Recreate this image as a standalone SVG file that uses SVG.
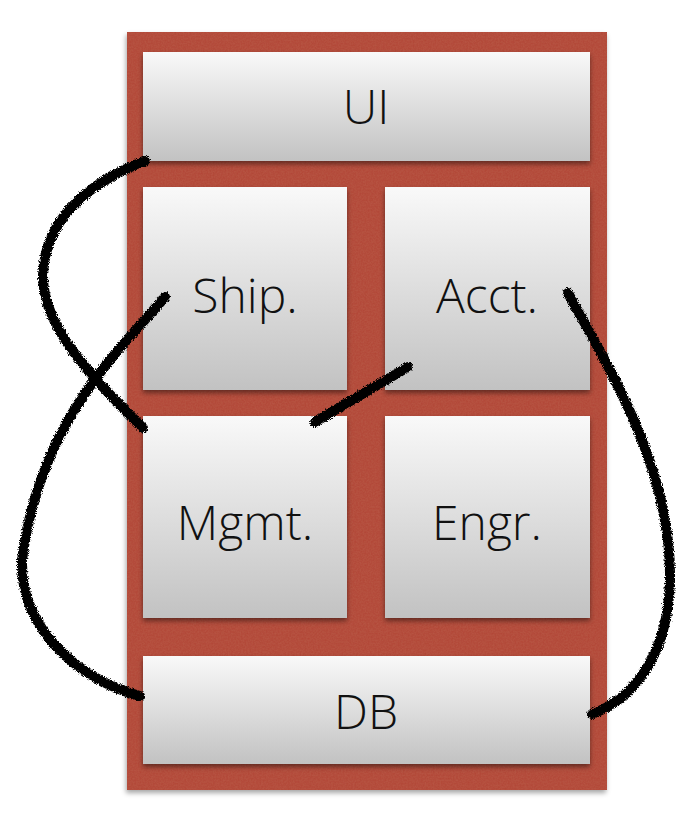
<svg xmlns="http://www.w3.org/2000/svg" width="691" height="831" viewBox="0 0 691 831">
<defs>
<linearGradient id="boxg" x1="0" y1="0" x2="0" y2="1">
<stop offset="0" stop-color="#f9f9f9"/>
<stop offset="1" stop-color="#c2c2c2"/>
</linearGradient>
<filter id="sh" x="-10%" y="-10%" width="120%" height="130%">
<feDropShadow dx="0" dy="3" stdDeviation="2.5" flood-color="#000" flood-opacity="0.45"/>
</filter>
<filter id="psh" x="-10%" y="-10%" width="120%" height="120%">
<feDropShadow dx="-1" dy="3" stdDeviation="2.5" flood-color="#000" flood-opacity="0.35"/>
</filter>
<filter id="brush" x="-20%" y="-20%" width="140%" height="140%">
<feTurbulence type="fractalNoise" baseFrequency="1.2" numOctaves="2" seed="3" result="n"/>
<feDisplacementMap in="SourceGraphic" in2="n" scale="5" xChannelSelector="R" yChannelSelector="G"/>
</filter>
<filter id="tex" x="0" y="0" width="100%" height="100%">
<feTurbulence type="fractalNoise" baseFrequency="0.6" numOctaves="3" seed="7" result="n"/>
<feColorMatrix in="n" type="matrix" values="0 0 0 0 0.55  0 0 0 0 0.18  0 0 0 0 0.12  0 0 0 0.35 0" result="c"/>
<feComposite in="c" in2="SourceGraphic" operator="in"/>
</filter>
</defs>
<style>
.box{fill:url(#boxg);filter:url(#sh)}
.lbl{font-family:"Open Sans","Liberation Sans",sans-serif;font-weight:300;font-size:48px;fill:#111;text-anchor:middle}
.c{fill:none;stroke:#000;stroke-width:10;stroke-linecap:round;filter:url(#brush)}
</style>
<g id="panel">
<rect x="127" y="32" width="480" height="758" fill="#b14434" filter="url(#psh)"/>
<rect x="127" y="32" width="480" height="758" fill="#b14434" filter="url(#tex)"/>
</g>
<g id="ui"><rect class="box" x="143" y="52" width="447" height="109"/><text class="lbl" x="366" y="124">UI</text></g>
<g id="ship"><rect class="box" x="143" y="187" width="204" height="203"/><text class="lbl" x="245" y="313">Ship.</text></g>
<g id="acct"><rect class="box" x="385" y="187" width="205" height="203"/><text class="lbl" x="487" y="313">Acct.</text></g>
<g id="mgmt"><rect class="box" x="143" y="416" width="204" height="202"/><text class="lbl" x="245" y="540">Mgmt.</text></g>
<g id="engr"><rect class="box" x="385" y="416" width="205" height="202"/><text class="lbl" x="487" y="540">Engr.</text></g>
<g id="db"><rect class="box" x="143" y="656" width="447" height="108"/><text class="lbl" x="366" y="729">DB</text></g>
<g id="connectors">
<path class="c" d="M245,142 L245,206"/>
<path class="c" d="M487,142 L487,206"/>
<path class="c" d="M336,286 L388,286"/>
<path class="c" d="M336,509 L388,509"/>
<path class="c" d="M245,603 L245,668"/>
<path class="c" d="M487,603 L487,668"/>
<path class="c" d="M408,367 L315,422"/>
<path class="c" d="M145,161 C95,180 45,215 43,275 C42,330 100,385 143,428"/>
<path class="c" d="M165,297 C120,350 40,420 22,560 C20,630 80,680 140,696"/>
<path class="c" d="M568,293 C610,370 672,470 670,580 C668,660 630,700 592,714"/>
</g>
</svg>
